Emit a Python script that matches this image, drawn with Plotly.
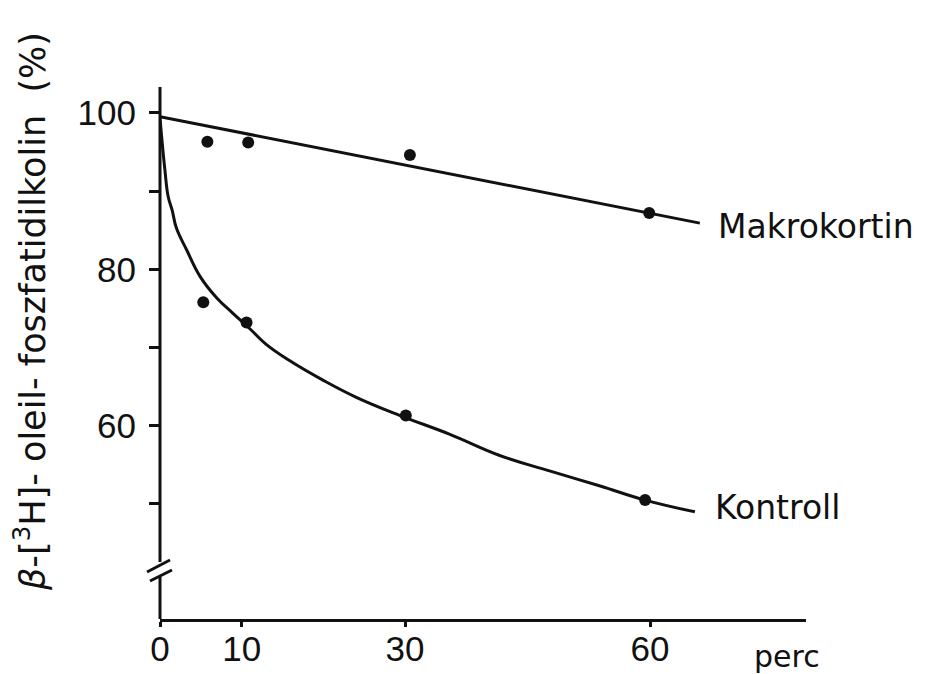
import plotly.graph_objects as go

# ---- data ----
time_makro = [5.8, 10.8, 30.6, 59.9]
val_makro = [96.3, 96.2, 94.6, 87.2]
time_kontroll = [5.3, 10.6, 30.1, 59.4]
val_kontroll = [75.8, 73.2, 61.3, 50.5]

fit_makro_x = [0, 66.1]
fit_makro_y = [99.5, 85.9]
fit_kontroll_x = [0, 0.6, 1.0, 1.5, 2.0, 3.3, 4.9, 6.9, 8.9, 11.0, 13.0, 15.9,
                  20.0, 24.1, 29.4, 35.5, 41.6, 47.8, 53.9, 59.4, 65.5]
fit_kontroll_y = [99.3, 92.7, 89.3, 87.5, 85.3, 82.4, 79.1, 76.4, 74.4, 72.4, 70.4, 68.3,
                  65.8, 63.6, 61.3, 58.9, 56.2, 54.2, 52.3, 50.5, 49.0]

x_tickvals = [0, 10, 30, 60]
x_ticktext = ["0", "10", "30", "60"]
y_tickvals = [50, 60, 70, 80, 90, 100]
y_ticktext = ["", "60", "", "80", "", "100"]

series_labels = ["Makrokortin", "Kontroll"]
x_title = "perc"
y_title = "<i>β</i>-[<sup>3</sup>H]- oleil- foszfatidilkolin  (%)"

WORD_FONT = "DejaVu Sans"
NUM_FONT = "Liberation Sans"
INK = "#111111"

# page offset (browser body margin)
OFF = 8
PLOT_L, PLOT_R, PLOT_T, PLOT_B = 160, 806, 87, 619   # target screen pixels
W, H = 929 - OFF, 674 - OFF


def px_x(px):
    return (px - PLOT_L) / (PLOT_R - PLOT_L)


def px_y(py):
    return (PLOT_B - py) / (PLOT_B - PLOT_T)


fig = go.Figure()
fig.add_trace(go.Scatter(x=fit_makro_x, y=fit_makro_y, mode="lines",
                         line=dict(color=INK, width=3), cliponaxis=False,
                         showlegend=False, hoverinfo="skip"))
fig.add_trace(go.Scatter(x=fit_kontroll_x, y=fit_kontroll_y, mode="lines",
                         line=dict(color=INK, width=3, shape="spline", smoothing=1.2),
                         cliponaxis=False, showlegend=False, hoverinfo="skip"))
fig.add_trace(go.Scatter(x=time_makro, y=val_makro, mode="markers", name=series_labels[0],
                         marker=dict(color=INK, size=12), cliponaxis=False, showlegend=False))
fig.add_trace(go.Scatter(x=time_kontroll, y=val_kontroll, mode="markers", name=series_labels[1],
                         marker=dict(color=INK, size=12), cliponaxis=False, showlegend=False))

# series labels at the line ends
fig.add_annotation(x=fit_makro_x[-1], y=fit_makro_y[-1], text=series_labels[0],
                   xanchor="left", yanchor="middle", xshift=16, yshift=-3, showarrow=False,
                   font=dict(family=WORD_FONT, size=33, color=INK))
fig.add_annotation(x=fit_kontroll_x[-1], y=fit_kontroll_y[-1], text=series_labels[1],
                   xanchor="left", yanchor="middle", xshift=18, yshift=4, showarrow=False,
                   font=dict(family=WORD_FONT, size=33, color=INK))
# x-axis unit label
fig.add_annotation(xref="paper", yref="paper", x=px_x(752), y=px_y(656),
                   text=x_title, xanchor="left", yanchor="middle", showarrow=False,
                   font=dict(family=WORD_FONT, size=30, color=INK))
# y-axis title
fig.add_annotation(xref="paper", yref="paper", x=px_x(30), y=px_y(312),
                   text=y_title, textangle=-90, xanchor="center", yanchor="middle",
                   showarrow=False, font=dict(family=WORD_FONT, size=35, color=INK))

# y-axis line with a break
line_style = dict(color=INK, width=3)
fig.add_shape(type="line", xref="paper", yref="paper", x0=0, x1=0,
              y0=px_y(562), y1=1, line=line_style)
fig.add_shape(type="line", xref="paper", yref="paper", x0=0, x1=0,
              y0=0, y1=px_y(577), line=line_style)
fig.add_shape(type="line", xref="paper", yref="paper",
              x0=px_x(147), y0=px_y(572), x1=px_x(170), y1=px_y(560), line=line_style)
fig.add_shape(type="line", xref="paper", yref="paper",
              x0=px_x(150), y0=px_y(581), x1=px_x(172), y1=px_y(570), line=line_style)

fig.update_layout(
    width=W, height=H,
    margin=dict(l=PLOT_L - OFF, r=W - (PLOT_R - OFF), t=PLOT_T - OFF,
                b=H - (PLOT_B - OFF), autoexpand=False),
    paper_bgcolor="white", plot_bgcolor="white",
    showlegend=False,
    xaxis=dict(range=[0, 79.1], showgrid=False, zeroline=False, automargin=False,
               showline=True, linecolor=INK, linewidth=3,
               tickmode="array", tickvals=x_tickvals, ticktext=x_ticktext,
               ticks="outside", ticklen=5, tickwidth=2.5, tickcolor=INK,
               ticklabelstandoff=-8,
               tickfont=dict(family=NUM_FONT, size=35, color=INK)),
    yaxis=dict(range=[35.3, 103.3], showgrid=False, zeroline=False, automargin=False,
               showline=False,
               tickmode="array", tickvals=y_tickvals, ticktext=y_ticktext,
               ticks="outside", ticklen=10, tickwidth=2.5, tickcolor=INK,
               ticklabelstandoff=6,
               tickfont=dict(family=NUM_FONT, size=35, color=INK)),
)

fig.write_html("out.html")
